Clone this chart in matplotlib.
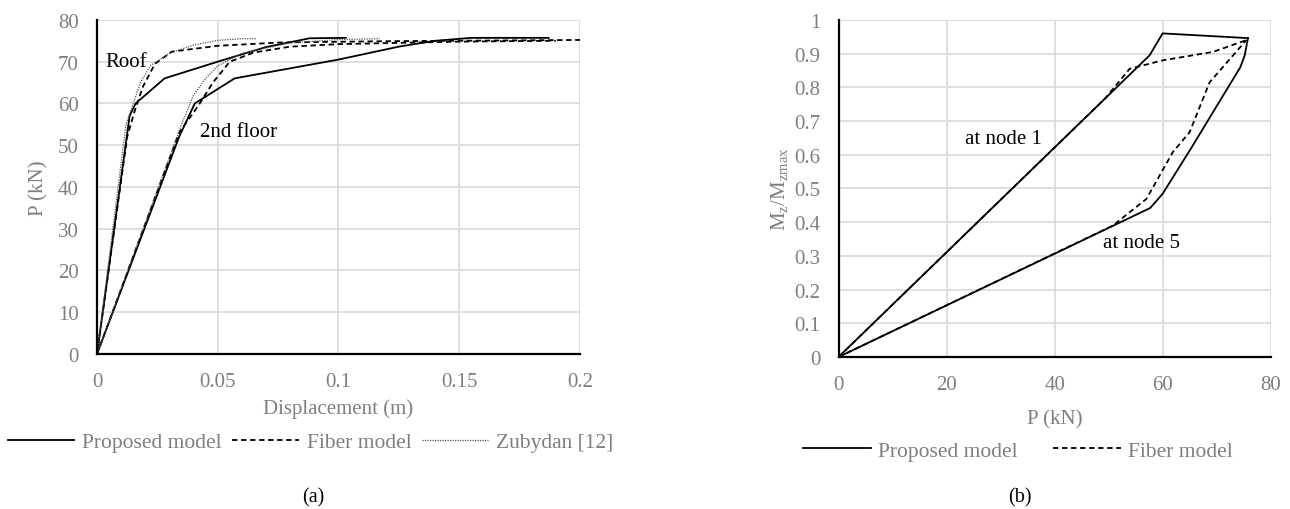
import matplotlib
matplotlib.use("Agg")
import matplotlib.pyplot as plt
from matplotlib.lines import Line2D

plt.rcParams["font.family"] = ["Liberation Serif", "DejaVu Serif"]
plt.rcParams["mathtext.fontset"] = "custom"
plt.rcParams["mathtext.rm"] = "Liberation Serif"
plt.rcParams["mathtext.it"] = "Liberation Serif"

GRAY = "#7f7f7f"
GRID = "#d9d9d9"
FS = 15

# ── (a) pushover curves ───────────────────────────────────────────────────────
roof_prop_x = [0, 0.0135, 0.016, 0.028, 0.05, 0.07, 0.088, 0.103]
roof_prop_y = [0, 57, 60, 66, 70, 73.5, 75.6, 75.7]
floor2_prop_x = [0, 0.034, 0.0405, 0.057, 0.1, 0.125, 0.14, 0.155, 0.187]
floor2_prop_y = [0, 52, 60, 66, 70.5, 73.6, 75.0, 75.7, 75.7]

roof_fib_x = [0, 0.0125, 0.0155, 0.019, 0.024, 0.031, 0.05, 0.076, 0.12, 0.2]
roof_fib_y = [0, 52, 58, 64, 69.5, 72.4, 73.8, 74.6, 74.9, 75.2]
floor2_fib_x = [0, 0.034, 0.042, 0.048, 0.055, 0.065, 0.08, 0.1, 0.15, 0.19]
floor2_fib_y = [0, 53, 59.5, 65, 70, 72.2, 73.6, 74.2, 74.8, 75.0]

roof_zub_x = [0, 0.012, 0.015, 0.018, 0.022, 0.03, 0.04, 0.05, 0.06, 0.066]
roof_zub_y = [0, 55, 60, 65, 69, 72, 74, 75.1, 75.5, 75.5]
floor2_zub_x = [0, 0.035, 0.04, 0.045, 0.05, 0.06, 0.08, 0.1, 0.117]
floor2_zub_y = [0, 55, 62, 66, 69, 72, 74.5, 75.3, 75.5]

# ── (b) moment ratio vs load ──────────────────────────────────────────────────
node1_prop_x = [0, 57.6, 60, 75.8]
node1_prop_y = [0, 0.895, 0.96, 0.946]
node5_prop_x = [0, 57.7, 60, 65.3, 74.4, 75.2, 75.8]
node5_prop_y = [0, 0.442, 0.484, 0.62, 0.86, 0.895, 0.946]

node1_fib_x = [0, 49.3, 53.9, 60, 69.3, 75.5]
node1_fib_y = [0, 0.766, 0.855, 0.88, 0.905, 0.94]
node5_fib_x = [0, 50.8, 57, 61.9, 65, 68.7, 75.5]
node5_fib_y = [0, 0.39, 0.469, 0.608, 0.667, 0.815, 0.94]

SOLID = dict(color="black", lw=1.3, ls="-")
DASH = dict(color="black", lw=1.3, ls=(0, (3, 2)))
DOT = dict(color="#555555", lw=0.9, ls=(0, (1, 1)))

fig = plt.figure(figsize=(12.9, 5.1), dpi=100)
fig.patch.set_facecolor("white")


def style(ax):
    for s in ("top", "right"):
        ax.spines[s].set_visible(False)
    ax.spines["left"].set_linewidth(1.6)
    ax.spines["bottom"].set_linewidth(1.6)
    ax.grid(True, color=GRID, lw=1.2)
    ax.set_axisbelow(True)
    ax.tick_params(length=0, labelsize=FS, colors=GRAY, pad=13)


axa = fig.add_axes([0.0752, 0.304, 0.3744, 0.655])
axa.plot(roof_prop_x, roof_prop_y, **SOLID)
axa.plot(floor2_prop_x, floor2_prop_y, **SOLID)
axa.plot(roof_fib_x, roof_fib_y, **DASH)
axa.plot(floor2_fib_x, floor2_fib_y, **DASH)
axa.plot(roof_zub_x, roof_zub_y, **DOT)
axa.plot(floor2_zub_x, floor2_zub_y, **DOT)
axa.set_xlim(0, 0.2)
axa.set_ylim(0, 80)
axa.set_xticks([0, 0.05, 0.1, 0.15, 0.2])
axa.set_xticklabels(["0", "0.05", "0.1", "0.15", "0.2"])
axa.set_yticks(range(0, 81, 10))
style(axa)
axa.set_xlabel("Displacement (m)", fontsize=FS, color=GRAY, labelpad=5)
axa.set_ylabel("P (kN)", fontsize=FS, color=GRAY, labelpad=7)
axa.text(0.0033, 70, "Roof", fontsize=FS, va="center", ha="left")
axa.text(0.0425, 53.2, "2nd floor", fontsize=FS, va="center", ha="left")

axb = fig.add_axes([0.650, 0.298, 0.335, 0.661])
axb.plot(node1_prop_x, node1_prop_y, **SOLID)
axb.plot(node5_prop_x, node5_prop_y, **SOLID)
axb.plot(node1_fib_x, node1_fib_y, **DASH)
axb.plot(node5_fib_x, node5_fib_y, **DASH)
axb.set_xlim(0, 80)
axb.set_ylim(0, 1)
axb.set_xticks(range(0, 81, 20))
axb.set_yticks([i / 10 for i in range(11)])
axb.set_yticklabels(["0"] + [f"0.{i}" for i in range(1, 10)] + ["1"])
style(axb)
axb.set_xlabel("P (kN)", fontsize=FS, color=GRAY, labelpad=11)
axb.set_ylabel(r"M$_\mathregular{z}$/M$_\mathregular{zmax}$", fontsize=FS, color=GRAY, labelpad=3)
axb.text(23.5, 0.647, "at node 1", fontsize=FS, va="center", ha="left")
axb.text(48.9, 0.34, "at node 5", fontsize=FS, va="center", ha="left")

# ── Legends ───────────────────────────────────────────────────────────────────
h_a = [Line2D([], [], **SOLID), Line2D([], [], **DASH), Line2D([], [], **DOT)]
fig.legend(h_a, ["Proposed model", "Fiber model", "Zubydan [12]"],
           loc="center", bbox_to_anchor=(0.2407, 0.131), ncol=3, frameon=False,
           fontsize=15.5, labelcolor=GRAY, handlelength=3.1, handletextpad=0.37,
           columnspacing=0.47, borderpad=0, borderaxespad=0)
h_b = [Line2D([], [], **SOLID), Line2D([], [], **DASH)]
fig.legend(h_b, ["Proposed model", "Fiber model"],
           loc="center", bbox_to_anchor=(0.789, 0.114), ncol=2, frameon=False,
           fontsize=15.5, labelcolor=GRAY, handlelength=3.15, handletextpad=0.33,
           columnspacing=1.67, borderpad=0, borderaxespad=0)

fig.text(0.2426, 0.0235, "(a)", fontsize=14.5, ha="center", va="center")
fig.text(0.7907, 0.0235, "(b)", fontsize=14.5, ha="center", va="center")

fig.savefig("out.png", dpi=100, facecolor="white")
